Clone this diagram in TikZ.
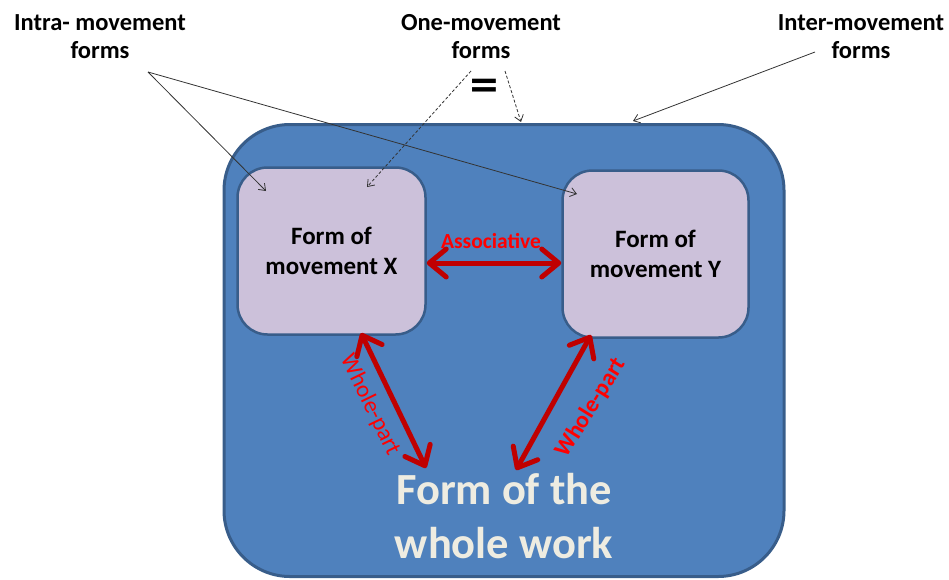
\documentclass[tikz,border=0pt]{standalone}
\usepackage{fontspec}
\setmainfont{Carlito}
\newfontfamily\eqfont{DejaVu Sans}
\usetikzlibrary{arrows.meta}
\definecolor{bluefill}{HTML}{4F81BD}
\definecolor{blueline}{HTML}{385D8A}
\definecolor{lilac}{HTML}{CCC1DA}
\definecolor{darkred}{HTML}{C00000}
\definecolor{brightred}{HTML}{FF0000}
\definecolor{cream}{HTML}{EEECE1}
\begin{document}
\begin{tikzpicture}[x=1pt,y=-1pt,
  toplabel/.style={align=center,font=\fontsize{24.5}{28}\selectfont\bfseries,inner sep=0pt},
  bigbox/.style={draw=blueline,fill=bluefill,line width=3pt,rounded corners=66pt},
  mvbox/.style={draw=blueline,fill=lilac,line width=2.5pt,rounded corners=30pt,align=center,
    font=\fontsize{25}{30}\selectfont\bfseries},
  relarrow/.style={draw=darkred,line width=5pt,
    {Straight Barb[length=17pt,width=28pt,round]}-{Straight Barb[length=17pt,width=28pt,round]}},
  pointer/.style={draw=black!80,line width=0.8pt,-{Straight Barb[length=6pt,width=9pt]}},
  dpointer/.style={pointer,dash pattern=on 3pt off 2pt},
  rellabel/.style={text=brightred,inner sep=0pt}
]
\useasboundingbox (0,0) rectangle (949,579);
% containers
\node[bigbox,minimum width=560pt,minimum height=452pt] (whole) at (504,350.5) {};
\node[mvbox,minimum width=188pt,minimum height=167pt] (mx) at (331.5,251) {Form of\\movement X};
\node[mvbox,minimum width=186pt,minimum height=167pt] (my) at (655.5,254) {Form of\\movement Y};
\node[align=center,text=cream,inner sep=0pt,font=\fontsize{44.5}{54}\selectfont\bfseries] (work) at (504,516) {Form of the\\whole work};
% top labels
\node[toplabel] (intra) at (100,37) {Intra- movement\\forms};
\node[toplabel] (one) at (481,37) {One-movement\\forms};
\node[toplabel] (inter) at (861,37) {Inter-movement\\forms};
\node[inner sep=0pt,font=\eqfont\fontsize{38}{38}\selectfont\bfseries] (eq) at (484,88) {=};
% pointer coordinates
\coordinate (ia) at (148,72);
\coordinate (ix) at (266,191);
\coordinate (iy) at (577,194);
\coordinate (oa) at (471,71);
\coordinate (ob) at (505,71);
\coordinate (ox) at (367,187);
\coordinate (ow) at (521,122);
\coordinate (na) at (815,52);
\coordinate (nw) at (633,121);
\draw[pointer] (ia) -- (ix);
\draw[pointer] (ia) -- (iy);
\draw[dpointer] (oa) -- (ox);
\draw[dpointer] (ob) -- (ow);
\draw[pointer] (na) -- (nw);
% relations
\coordinate (xb) at (361,333);
\coordinate (wl) at (426,468);
\coordinate (yb) at (591,335);
\coordinate (wr) at (516,470);
\draw[relarrow] ([yshift=-12pt]mx.east) -- ([yshift=-9pt]my.west);
\draw[relarrow] (xb) -- (wl);
\draw[relarrow] (yb) -- (wr);
\node[rellabel,font=\fontsize{21.5}{24}\selectfont\bfseries] (assoc) at (491,241) {Associative};
\node[rellabel,rotate=-64,font=\fontsize{23.5}{26}\selectfont] (wp1) at (370,405) {Whole-part};
\node[rellabel,rotate=58,font=\fontsize{23.5}{26}\selectfont\bfseries] (wp2) at (591,408) {Whole-part};
\end{tikzpicture}
\end{document}
